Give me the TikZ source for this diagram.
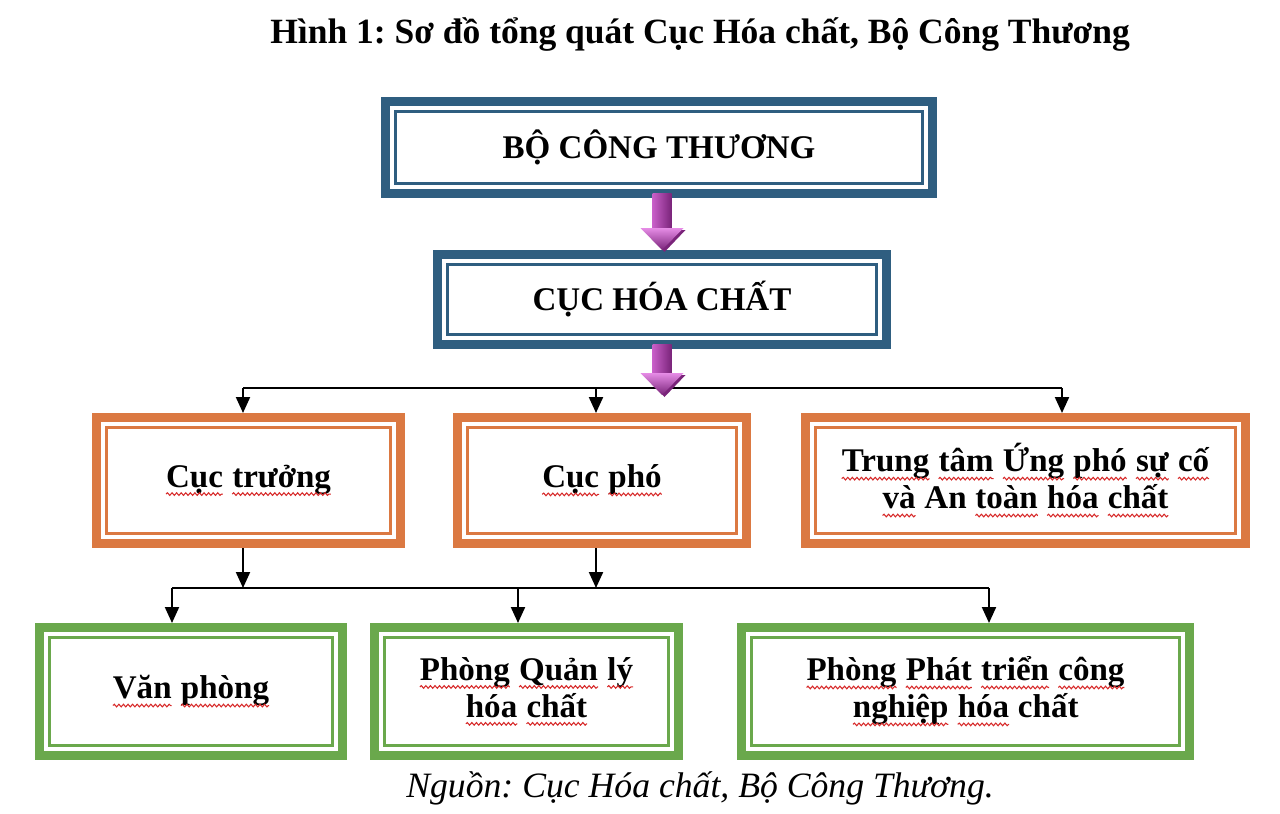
\documentclass[tikz,border=0pt]{standalone}
\usepackage{fontspec}
\setmainfont{Liberation Serif}
\usetikzlibrary{arrows.meta,calc,decorations.pathmorphing}

\definecolor{boxblue}{RGB}{47,94,128}
\definecolor{boxorange}{RGB}{219,121,66}
\definecolor{boxgreen}{RGB}{106,168,76}
\definecolor{plight}{RGB}{230,140,230}
\definecolor{pmid}{RGB}{200,95,200}
\definecolor{pdark}{RGB}{122,36,122}
\definecolor{wavered}{RGB}{215,40,40}

\tikzset{
  box/.style={draw=#1, line width=0.18cm, fill=white, inner sep=0pt, align=center,
    font=\fontsize{18.8}{21}\selectfont\bfseries},
  bluebox/.style={box=boxblue},
  orangebox/.style={box=boxorange, minimum height=2.52cm},
  greenbox/.style={box=boxgreen, minimum height=2.56cm},
  link/.style={line width=1.2pt},
  arr/.style={line width=1.2pt, -{Triangle[length=0.32cm,width=0.28cm]}},
  wave/.style={wavered, line width=0.6pt, decorate,
    decoration={snake, amplitude=0.75pt, segment length=2.6pt}}
}

% red spell-check squiggle under a word
\newcommand\sq[1]{\tikz[baseline=(w.base)]{\node[inner sep=0pt, outer sep=0pt, minimum width=0pt,
  minimum height=0pt, draw=none, fill=none, text=black] (w) {#1};
  \draw[wave] ([yshift=-3.8pt]w.base west) -- ([yshift=-3.8pt]w.base east);}}

% purple block arrow from #1 down to the tip #2
\newcommand\blockarrow[2]{%
  \fill[pdark] ($(#2)+(-0.36,0.40)$) -- ($(#2)+(0.47,0.40)$) -- ($(#2)+(0.05,-0.04)$) -- cycle;
  \shade[left color=pmid, middle color=plight, right color=pdark] ($(#1)+(-0.19,0)$) rectangle ($(#2)+(0.19,0.42)$);
  \shade[top color=plight, bottom color=pdark] ($(#2)+(-0.43,0.44)$) -- ($(#2)+(0.43,0.44)$) -- (#2) -- cycle;
}

\begin{document}
\frenchspacing
\begin{tikzpicture}
  \useasboundingbox (0,0) rectangle (25.6,-16.28);

  % Title and source
  \node[anchor=base west, inner sep=0pt, font=\fontsize{20.2}{24}\selectfont\bfseries] (title) at (5.40,-0.86)
    {Hình 1: Sơ đồ tổng quát Cục Hóa chất, Bộ Công Thương};
  \node[anchor=base west, inner sep=0pt, font=\fontsize{20.3}{24}\selectfont\itshape] (nguon) at (8.12,-15.94)
    {Nguồn: Cục Hóa chất, Bộ Công Thương.};

  % Top levels
  \node[bluebox, minimum width=10.94cm, minimum height=1.84cm] (bo) at (13.18,-2.95) {BỘ CÔNG THƯƠNG};
  \node[bluebox, minimum width=8.98cm, minimum height=1.80cm] (cuc) at (13.24,-5.99) {CỤC HÓA CHẤT};

  % Leadership
  \node[orangebox, minimum width=6.08cm] (truong) at (4.97,-9.61) {\sq{Cục} \sq{trưởng}};
  \node[orangebox, minimum width=5.78cm] (pho) at (12.04,-9.61) {\sq{Cục} \sq{phó}};
  \node[orangebox, minimum width=8.80cm] (ungpho) at (20.51,-9.61)
    {\sq{Trung} \sq{tâm} \sq{Ứng} \sq{phó} \sq{sự} \sq{cố}\\ \sq{và} An \sq{toàn} \sq{hóa} \sq{chất}};

  % Departments
  \node[greenbox, minimum width=6.06cm] (vp) at (3.82,-13.83) {\sq{Văn} \sq{phòng}};
  \node[greenbox, minimum width=6.08cm] (qlhc) at (10.53,-13.83) {\sq{Phòng} \sq{Quản} \sq{lý}\\ \sq{hóa} \sq{chất}};
  \node[greenbox, minimum width=8.96cm] (ptcn) at (19.31,-13.83)
    {\sq{Phòng} \sq{Phát} \sq{triển} \sq{công}\\ \sq{nghiệp} \sq{hóa} chất};

  % inner frame lines
  \foreach \n/\c in {bo/boxblue, cuc/boxblue, truong/boxorange, pho/boxorange, ungpho/boxorange,
                     vp/boxgreen, qlhc/boxgreen, ptcn/boxgreen}
    \draw[\c, line width=0.06cm] ([shift={(0.29,-0.29)}]\n.north west) rectangle ([shift={(-0.29,0.29)}]\n.south east);

  % Connectors to the leadership
  \coordinate (b1) at (4.86,-7.76);
  \coordinate (b2) at (11.92,-7.76);
  \coordinate (b3) at (21.24,-7.76);
  \draw[link] (b1) -- (b3);
  \foreach \c/\n in {b1/truong, b2/pho, b3/ungpho}
    \draw[arr] (\c) -- (\c |- \n.north);

  % Connectors to the departments
  \coordinate (c1) at (3.44,-11.76);
  \coordinate (c2) at (10.36,-11.76);
  \coordinate (c3) at (19.78,-11.76);
  \draw[link] (c1) -- (c3);
  \draw[arr] (truong.south -| b1) -- (b1 |- c1);
  \draw[arr] (pho.south -| b2) -- (b2 |- c1);
  \foreach \c/\n in {c1/vp, c2/qlhc, c3/ptcn}
    \draw[arr] (\c) -- (\c |- \n.north);

  % Purple arrows
  \coordinate (top1) at ($(bo.south -| cuc.north)+(0,0.1)$);
  \blockarrow{top1}{cuc.north}
  \coordinate (top2) at ($(cuc.south)+(0,0.1)$);
  \coordinate (tip2) at ($(cuc.south)+(0,-0.92)$);
  \blockarrow{top2}{tip2}
\end{tikzpicture}
\end{document}
